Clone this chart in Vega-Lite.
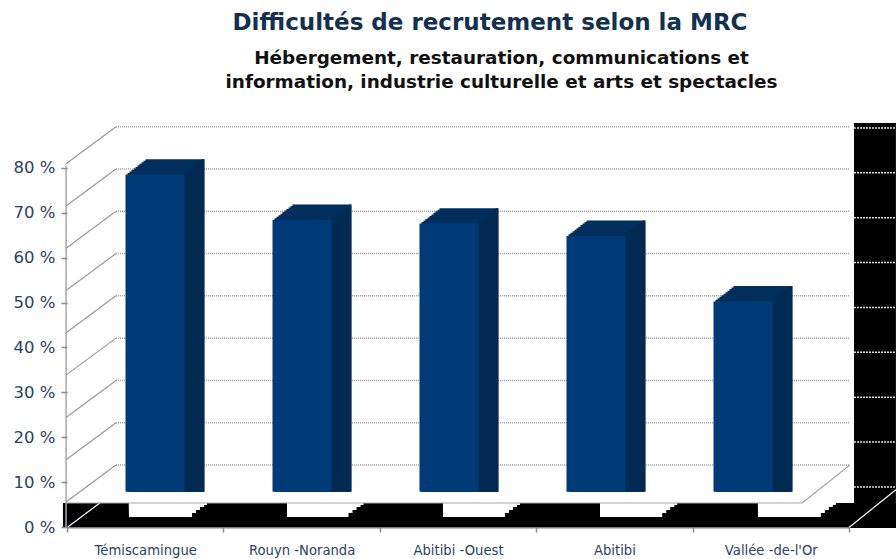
{"$schema":"https://vega.github.io/schema/vega-lite/v6.json","width":782,"height":404,"autosize":"none","padding":{"left":67,"top":123,"right":47,"bottom":32},"background":"white","title":{"text":"Difficultés de recrutement selon la MRC","anchor":"middle","frame":"group","dx":32,"offset":14,"font":"DejaVu Sans","fontSize":23,"fontWeight":"bold","color":"#12304f"},"view":{"stroke":null},"datasets":{"mrc":[{"mrc":"Témiscamingue","pct":75},{"mrc":"Rouyn -Noranda","pct":64.3},{"mrc":"Abitibi -Ouest","pct":63.4},{"mrc":"Abitibi","pct":60.5},{"mrc":"Vallée -de-l'Or","pct":45}],"niveaux":[{"n":0},{"n":10},{"n":20},{"n":30},{"n":40},{"n":50},{"n":60},{"n":70},{"n":80}],"un":[{"k":1}],"encoches":[{"a":0.396,"b":0.799},{"a":1.407,"b":1.8},{"a":2.404,"b":2.8},{"a":3.408,"b":3.806},{"a":4.418,"b":4.82}]},"layer":[{"layer":[{"data":{"name":"un"},"mark":{"type":"rect","color":"black"},"encoding":{"x":{"datum":-0.026,"type":"quantitative","scale":{"domain":[0,5]},"axis":null},"x2":{"datum":5.3},"y":{"datum":5.35,"type":"quantitative","scale":{"domain":[0,90],"zero":false},"axis":null},"y2":{"datum":-0.22}}},{"data":{"name":"un"},"mark":{"type":"rect","color":"black"},"encoding":{"x":{"datum":5.032,"type":"quantitative"},"x2":{"datum":5.3},"y":{"datum":90,"type":"quantitative"},"y2":{"datum":-0.22}}},{"data":{"name":"encoches"},"mark":{"type":"rect","color":"white"},"encoding":{"x":{"field":"a","type":"quantitative"},"x2":{"field":"b"},"y":{"datum":5.35,"type":"quantitative"},"y2":{"datum":2.2}}},{"data":{"name":"encoches"},"mark":{"type":"rect","color":"white","x2Offset":4},"encoding":{"x":{"field":"a","type":"quantitative"},"x2":{"field":"b"},"y":{"datum":5.35,"type":"quantitative"},"y2":{"datum":3.1}}},{"data":{"name":"encoches"},"mark":{"type":"rect","color":"white","x2Offset":8},"encoding":{"x":{"field":"a","type":"quantitative"},"x2":{"field":"b"},"y":{"datum":5.35,"type":"quantitative"},"y2":{"datum":3.8}}},{"data":{"name":"encoches"},"mark":{"type":"rect","color":"white","x2Offset":12},"encoding":{"x":{"field":"a","type":"quantitative"},"x2":{"field":"b"},"y":{"datum":5.35,"type":"quantitative"},"y2":{"datum":4.45}}},{"data":{"name":"encoches"},"mark":{"type":"rect","color":"white","x2Offset":15},"encoding":{"x":{"field":"a","type":"quantitative"},"x2":{"field":"b"},"y":{"datum":5.35,"type":"quantitative"},"y2":{"datum":4.9}}},{"data":{"name":"niveaux"},"mark":{"type":"rule","color":"#dddddd","strokeWidth":1.5,"strokeDash":[2,1],"yOffset":-40},"encoding":{"x":{"datum":5.032,"type":"quantitative"},"x2":{"datum":5.3},"y":{"field":"n","type":"quantitative"}}},{"data":{"name":"un"},"mark":{"type":"rule","color":"white","strokeWidth":1.2},"encoding":{"x":{"datum":0.005,"type":"quantitative"},"x2":{"datum":0.21},"y":{"datum":0,"type":"quantitative"},"y2":{"datum":5.35}}},{"data":{"name":"un"},"mark":{"type":"rule","color":"white","strokeWidth":1.2},"encoding":{"x":{"datum":5,"type":"quantitative"},"x2":{"datum":5.3},"y":{"datum":-0.1,"type":"quantitative"},"y2":{"datum":8.3}}},{"data":{"name":"un"},"mark":{"type":"rule","color":"#a6a6ae","strokeWidth":1.5},"encoding":{"x":{"datum":-0.006,"type":"quantitative"},"y":{"datum":80.5,"type":"quantitative"},"y2":{"datum":-0.22}}},{"data":{"name":"un"},"mark":{"type":"rule","color":"#a6a6ae","strokeWidth":1.5},"encoding":{"x":{"datum":0,"type":"quantitative"},"x2":{"datum":5},"y":{"datum":-0.22,"type":"quantitative"}}},{"data":{"name":"un"},"mark":{"type":"rule","color":"#a6a6ae","strokeWidth":1.2},"encoding":{"x":{"datum":-0.006,"type":"quantitative"},"x2":{"datum":4.7},"y":{"datum":5.35,"type":"quantitative"}}},{"data":{"name":"un"},"mark":{"type":"rule","color":"#a6a6ae","strokeWidth":1.2},"encoding":{"x":{"datum":4.7,"type":"quantitative"},"x2":{"datum":5.006},"y":{"datum":5.35,"type":"quantitative"},"y2":{"datum":13.8}}},{"data":{"name":"un"},"mark":{"type":"text","text":["Hébergement, restauration, communications et","information, industrie culturelle et arts et spectacles"],"font":"DejaVu Sans","fontSize":18.4,"fontWeight":"bold","color":"#111111","lineHeight":24,"align":"center","baseline":"middle"},"encoding":{"x":{"datum":2.778,"type":"quantitative"},"y":{"datum":104.4,"type":"quantitative"}}}]},{"data":{"name":"niveaux"},"encoding":{"y":{"field":"n","type":"quantitative","scale":{"domain":[-8.36,87.2],"zero":false},"axis":null}},"layer":[{"mark":{"type":"rule","color":"#a0a0a0","strokeWidth":1.5,"strokeDash":[1,1],"yOffset":-26.7},"encoding":{"x":{"datum":0.313,"type":"quantitative","scale":{"domain":[0,5]},"axis":null},"x2":{"datum":5.006}}},{"mark":{"type":"rule","color":"#999999","strokeWidth":1.2,"yOffset":10.3,"y2Offset":-26.7},"encoding":{"x":{"datum":-0.006,"type":"quantitative"},"x2":{"datum":0.313},"y2":{"field":"n"}}}]},{"data":{"name":"mrc"},"encoding":{"x":{"field":"mrc","type":"nominal","sort":null,"scale":{"type":"band","paddingInner":0,"paddingOuter":0,"range":[14.5,749.5]},"axis":null},"y":{"field":"pct","type":"quantitative","stack":null,"scale":{"domain":[-8.36,87.2],"zero":false},"axis":null}},"layer":[{"mark":{"type":"bar","width":59,"color":"#022e5e","xOffset":2,"yOffset":-1.54}},{"mark":{"type":"bar","width":59,"color":"#022e5e","xOffset":4,"yOffset":-3.08}},{"mark":{"type":"bar","width":59,"color":"#022e5e","xOffset":6,"yOffset":-4.62}},{"mark":{"type":"bar","width":59,"color":"#022e5e","xOffset":8,"yOffset":-6.16}},{"mark":{"type":"bar","width":59,"color":"#022e5e","xOffset":10,"yOffset":-7.7}},{"mark":{"type":"bar","width":59,"color":"#022e5e","xOffset":12,"yOffset":-9.24}},{"mark":{"type":"bar","width":59,"color":"#022e5e","xOffset":14,"yOffset":-10.78}},{"mark":{"type":"bar","width":59,"color":"#022e5e","xOffset":16,"yOffset":-12.32}},{"mark":{"type":"bar","width":59,"color":"#022e5e","xOffset":18,"yOffset":-13.86}},{"mark":{"type":"bar","width":59,"color":"#022e5e","xOffset":20,"yOffset":-15.4}},{"mark":{"type":"bar","width":2.5,"color":"#002b52","xOffset":30,"yOffset":-1.54}},{"mark":{"type":"bar","width":2.5,"color":"#002b52","xOffset":32,"yOffset":-3.08}},{"mark":{"type":"bar","width":2.5,"color":"#002b52","xOffset":34,"yOffset":-4.62}},{"mark":{"type":"bar","width":2.5,"color":"#002b52","xOffset":36,"yOffset":-6.16}},{"mark":{"type":"bar","width":2.5,"color":"#002b52","xOffset":38,"yOffset":-7.7}},{"mark":{"type":"bar","width":2.5,"color":"#002b52","xOffset":40,"yOffset":-9.24}},{"mark":{"type":"bar","width":2.5,"color":"#002b52","xOffset":42,"yOffset":-10.78}},{"mark":{"type":"bar","width":2.5,"color":"#002b52","xOffset":44,"yOffset":-12.32}},{"mark":{"type":"bar","width":2.5,"color":"#002b52","xOffset":46,"yOffset":-13.86}},{"mark":{"type":"bar","width":2.5,"color":"#002b52","xOffset":48,"yOffset":-15.4}},{"mark":{"type":"bar","width":59,"color":"#003b79"}}]},{"data":{"name":"mrc"},"mark":{"type":"bar","opacity":0},"encoding":{"x":{"field":"mrc","type":"nominal","sort":null,"title":null,"scale":{"type":"band","paddingInner":0,"paddingOuter":0},"axis":{"orient":"bottom","zindex":2,"domain":false,"labelAngle":0,"labelFont":"DejaVu Sans","labelFontSize":13.2,"labelColor":"#2a4263","labelPadding":12,"labelOverlap":false,"labelBound":false,"tickColor":"#8a8a8a","tickSize":5,"tickWidth":1.5,"tickBand":"extent"}},"y":{"field":"pct","type":"quantitative","stack":null,"title":null,"scale":{"domain":[0,90],"zero":false},"axis":{"orient":"left","zindex":2,"grid":false,"domain":false,"values":[0,10,20,30,40,50,60,70,80],"labelExpr":"datum.value + ' %'","labelFont":"DejaVu Sans","labelFontSize":16.5,"labelColor":"#2a4263","labelPadding":6,"tickColor":"#8a8a8a","tickSize":6,"tickWidth":1.5}}}}],"resolve":{"scale":{"x":"independent","y":"independent"},"axis":{"x":"independent","y":"independent"}}}
